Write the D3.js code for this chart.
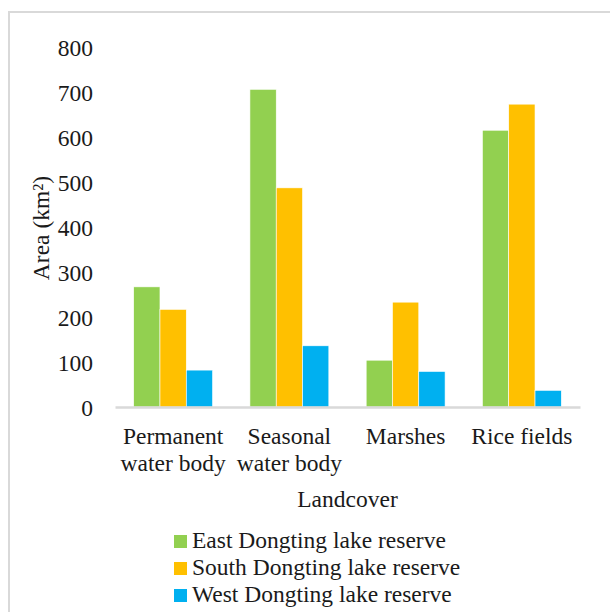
<!DOCTYPE html>
<html><head><meta charset="utf-8">
<script src="https://cdn.jsdelivr.net/npm/d3@7"></script>
<style>body{margin:0;background:#fff}svg{display:block}</style>
</head><body>
<script>
const categories = [["Permanent","water body"],["Seasonal","water body"],["Marshes"],["Rice fields"]];
const seriesNames = ["East Dongting lake reserve","South Dongting lake reserve","West Dongting lake reserve"];
const eastValues = [267, 706, 104, 615];
const southValues = [217, 487, 233, 673];
const westValues = [82, 136, 79, 37];
const yTicks = [0,100,200,300,400,500,600,700,800];
const colors = ["#92D050","#FFC000","#00B0F0"];

const FONT = "'Liberation Serif', 'Times New Roman', Times, 'DejaVu Serif', serif";
const FS = 23.5;
const seriesValues = [eastValues, southValues, westValues];
const W = 610, H = 612;
const svg = d3.select("body").append("svg").attr("width", W).attr("height", H)
  .attr("font-family", FONT);

svg.append("rect").attr("x", 9).attr("y", 12).attr("width", 700).attr("height", 700)
  .attr("fill", "none").attr("stroke", "#d9d9d9").attr("stroke-width", 2);

const catKeys = categories.map(c => c.join(" "));
const x0 = d3.scaleBand().domain(catKeys).range([115, 580]).paddingInner(0).paddingOuter(0);
const x1 = d3.scaleBand().domain(seriesNames).range([0, x0.bandwidth()]).paddingInner(0).paddingOuter(0.71);
const y = d3.scaleLinear().domain([0, 800]).range([407, 47]);

// y tick labels
const yAxis = d3.axisLeft(y).tickValues(yTicks).tickSize(0).tickPadding(0).tickFormat(d3.format("d"));
const gy = svg.append("g").attr("transform", "translate(93,0)").call(yAxis);
gy.attr("font-family", FONT).attr("font-size", FS);
gy.select(".domain").remove();
gy.selectAll("text").attr("dy", "0.35em").attr("fill", "#1a1a1a");

// bars
const groups = svg.append("g").selectAll("g").data(catKeys).join("g")
  .attr("transform", d => `translate(${x0(d)},0)`);
groups.selectAll("rect").data((d, i) => seriesNames.map((s, j) => ({s, j, v: seriesValues[j][i]})))
  .join("rect")
  .attr("x", d => x1(d.s)).attr("width", x1.bandwidth())
  .attr("y", d => y(d.v)).attr("height", d => y(0) - y(d.v))
  .attr("fill", d => colors[d.j]).attr("stroke", "#ffffff").attr("stroke-width", 0.6);

// x axis line
const xAxis = d3.axisBottom(x0).tickSize(0).tickFormat("");
const gx = svg.append("g").attr("transform", `translate(0,${y(0)})`).call(xAxis);
gx.select(".domain").attr("stroke", "#d9d9d9").attr("stroke-width", 2.5);

const T = (sel) => sel.attr("font-family", FONT).attr("font-size", FS).attr("fill", "#1a1a1a");

// category labels
categories.forEach((lines, i) => {
  const cx = x0(catKeys[i]) + x0.bandwidth() / 2;
  const t = svg.append("text").attr("text-anchor", "middle").call(T);
  lines.forEach((ln, k) => t.append("tspan").attr("x", cx).attr("y", 444 + k * 27).text(ln));
});

// axis titles
svg.append("text").attr("x", 347.5).attr("y", 507).attr("text-anchor", "middle").call(T).text("Landcover");
svg.append("text").attr("transform", "translate(49,228) rotate(-90)").attr("text-anchor", "middle")
  .call(T).text("Area (km²)");

// legend
const leg = svg.append("g").selectAll("g").data(seriesNames).join("g")
  .attr("transform", (d, i) => `translate(174,${548 + i * 27})`);
leg.append("rect").attr("x", 0).attr("y", -13).attr("width", 13).attr("height", 13).attr("fill", (d, i) => colors[i]);
leg.append("text").attr("x", 18).attr("y", 0).call(T).text(d => d);
</script>
</body></html>
